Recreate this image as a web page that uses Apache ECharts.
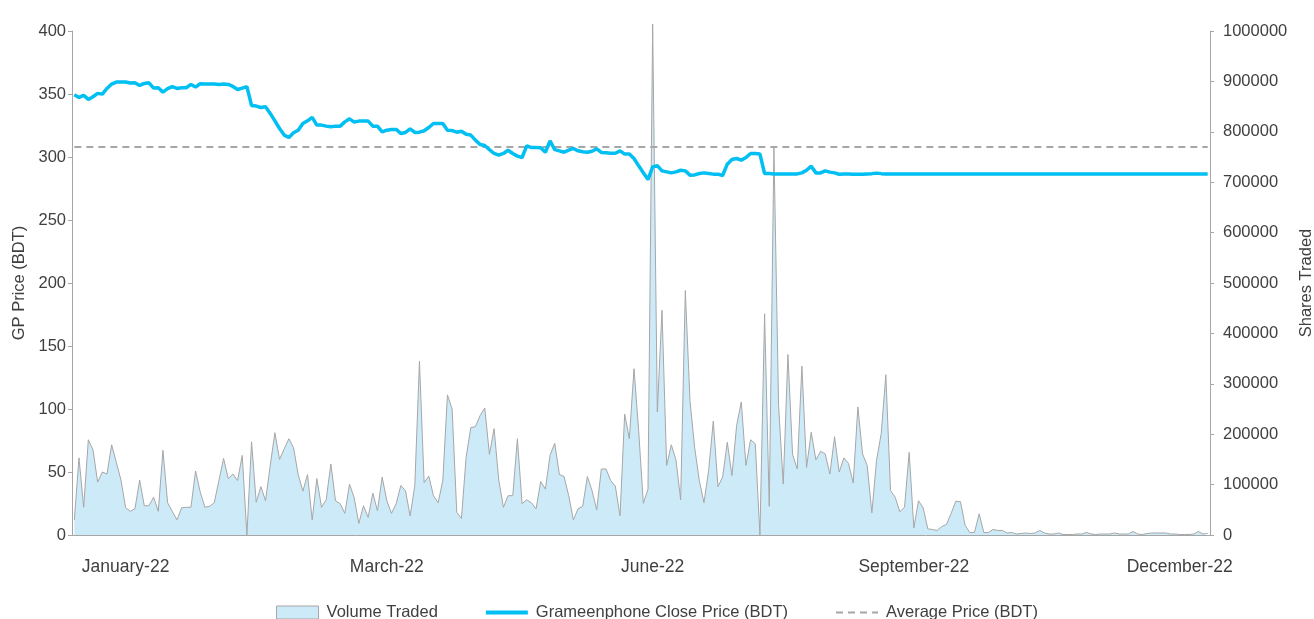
<!DOCTYPE html>
<html>
<head>
<meta charset="utf-8">
<script src="https://cdn.jsdelivr.net/npm/echarts@6/dist/echarts.min.js"></script>
<style>
  html, body { margin: 0; padding: 0; background: #fff; }
  #chart { width: 1314px; height: 619px; }
</style>
</head>
<body>
<div id="chart"></div>
<script>
// 交易日收盘价 (BDT)
const closePrice = [
  349.4, 347.3, 348.9, 345.7, 347.8, 350.5, 349.9, 354.4, 357.9, 359.5,
  359.5, 359.5, 358.7, 358.9, 356.8, 358.4, 358.9, 354.7, 355.0, 351.5,
  354.2, 355.8, 354.4, 355.0, 355.0, 357.6, 355.5, 358.2, 357.9, 357.9,
  357.9, 357.6, 357.9, 357.6, 356.0, 353.6, 354.7, 355.8, 340.9, 340.4,
  339.3, 339.9, 334.6, 328.7, 322.6, 317.4, 315.5, 319.2, 321.3, 326.6,
  328.7, 331.4, 325.3, 325.3, 324.5, 324.0, 324.5, 324.5, 327.9, 330.3,
  327.7, 328.5, 328.5, 328.5, 324.5, 324.5, 320.0, 321.3, 321.9, 321.9,
  318.7, 319.5, 322.4, 319.5, 319.7, 320.8, 323.4, 326.6, 326.6, 326.6,
  321.3, 321.0, 319.7, 320.5, 318.1, 317.4, 313.4, 309.9, 309.1, 305.9,
  302.8, 301.5, 302.8, 305.4, 302.8, 300.7, 299.6, 308.9, 307.5, 307.5,
  307.3, 303.8, 312.8, 305.9, 304.9, 303.8, 305.4, 306.8, 304.9, 304.1,
  303.8, 304.6, 306.5, 303.6, 303.3, 303.0, 303.0, 304.9, 302.3, 302.3,
  298.8, 293.0, 287.5, 282.1, 292.2, 293.2, 289.0, 288.2, 287.4, 288.2,
  289.5, 289.0, 285.6, 285.8, 286.9, 287.4, 286.9, 286.4, 286.4, 285.3,
  294.3, 298.0, 298.8, 297.5, 299.6, 302.8, 302.8, 302.3, 286.9, 286.9,
  286.6, 286.6, 286.6, 286.6, 286.6, 286.6, 287.4, 289.5, 292.7, 287.4,
  287.4, 289.0, 288.0, 287.4, 286.3, 286.6, 286.6, 286.4, 286.4, 286.4,
  286.6, 286.8, 287.2, 286.8, 286.6, 286.6, 286.6, 286.6, 286.6, 286.6,
  286.6, 286.6, 286.6, 286.6, 286.6, 286.6, 286.6, 286.6, 286.6, 286.6,
  286.6, 286.6, 286.6, 286.6, 286.6, 286.6, 286.6, 286.6, 286.6, 286.6,
  286.6, 286.6, 286.6, 286.6, 286.6, 286.6, 286.6, 286.6, 286.6, 286.6,
  286.6, 286.6, 286.6, 286.6, 286.6, 286.6, 286.6, 286.6, 286.6, 286.6,
  286.6, 286.6, 286.6, 286.6, 286.6, 286.6, 286.6, 286.6, 286.6, 286.6,
  286.6, 286.6, 286.6, 286.6, 286.6, 286.6, 286.6, 286.6, 286.6, 286.6,
  286.6, 286.6, 286.6, 286.6
];

// 成交量 (千股)
const volumeK = [
  30, 153, 55, 189, 169, 105, 125, 121, 179, 144,
  109, 54, 47, 52, 109, 58, 58, 75, 47, 168,
  64, 47, 30, 54, 55, 55, 127, 85, 55, 57,
  64, 108, 152, 112, 121, 108, 158, 0, 185, 65,
  96, 68, 138, 203, 150, 171, 191, 173, 120, 87,
  120, 30, 112, 55, 70, 141, 68, 62, 43, 101,
  74, 23, 58, 35, 83, 48, 115, 68, 43, 62,
  98, 88, 38, 98, 345, 104, 117, 78, 64, 108,
  278, 250, 45, 33, 154, 213, 215, 237, 252, 160,
  211, 109, 55, 78, 78, 191, 62, 70, 64, 52,
  106, 91, 158, 182, 120, 116, 78, 30, 52, 57,
  116, 88, 50, 131, 131, 108, 97, 38, 240, 191,
  330, 207, 63, 91, 1014, 244, 446, 138, 179, 149,
  70, 485, 267, 174, 108, 64, 128, 226, 96, 115,
  184, 118, 217, 264, 138, 189, 181, 0, 439, 57,
  768, 257, 101, 358, 160, 131, 335, 134, 204, 149,
  166, 161, 121, 195, 125, 153, 142, 103, 254, 161,
  138, 44, 148, 201, 318, 88, 75, 46, 55, 164,
  14, 68, 54, 12, 11, 9, 17, 21, 43, 67,
  66, 19, 5, 5, 42, 5, 5, 11, 9, 9,
  4, 5, 2, 3, 4, 3, 4, 9, 4, 2,
  2, 4, 1, 1, 1, 2, 2, 5, 2, 1,
  2, 2, 2, 4, 2, 2, 2, 7, 2, 1,
  3, 4, 4, 4, 4, 2, 2, 1, 1, 1,
  2, 7, 2, 3
];

// 平均价
const avgPrice = 308;

// 横轴标签位置
const tickIndex = [11, 67, 124, 180, 237];
const tickLabels = ["January-22", "March-22", "June-22", "September-22", "December-22"];

const categories = closePrice.map((v, i) => String(i));
const volume = volumeK.map((v) => v * 1000);
const avgLine = closePrice.map(() => avgPrice);

const FONT = "'Liberation Sans', Arial, sans-serif";
const AXIS_GREY = "#a6a6a6";
const TEXT = "#404040";
const CYAN = "#00bff2";
const FILL = "#cdeaf9";

let chart = echarts.init(document.getElementById("chart"));

let option = {
  animation: false,
  textStyle: { fontFamily: FONT },
  grid: { left: 72, right: 104, top: 31, bottom: 84, outerBoundsMode: "none", containLabel: false },
  legend: {
    top: 599,
    left: "center",
    itemGap: 48,
    itemWidth: 42,
    itemHeight: 13,
    textStyle: { fontFamily: FONT, fontSize: 16.5, color: TEXT, padding: [0, 0, 0, 3] },
    data: [
      {
        name: "Volume Traded",
        icon: "rect",
        itemStyle: { color: FILL, borderColor: AXIS_GREY, borderWidth: 1 },
      },
      {
        name: "Grameenphone Close Price (BDT)",
        icon: "path://M0 0h42v4H0z",
        itemStyle: { color: CYAN, borderWidth: 0 },
      },
      {
        name: "Average Price (BDT)",
        icon: "path://M0 0h7v2H0z M12 0h7v2h-7z M24 0h7v2h-7z M36 0h6v2h-6z",
        itemStyle: { color: AXIS_GREY, borderWidth: 0 },
      },
    ],
  },
  xAxis: {
    type: "category",
    data: categories,
    boundaryGap: true,
    axisLine: { show: true, lineStyle: { color: AXIS_GREY, width: 1 } },
    axisTick: { show: false },
    splitLine: { show: false },
    axisLabel: {
      interval: (idx) => tickIndex.includes(idx),
      formatter: (val, idx) => tickLabels[tickIndex.indexOf(idx)] || "",
      fontFamily: FONT,
      fontSize: 17.5,
      color: TEXT,
      margin: 23,
    },
  },
  yAxis: [
    {
      type: "value",
      position: "left",
      min: 0,
      max: 400,
      interval: 50,
      name: "GP Price (BDT)",
      nameLocation: "middle",
      nameRotate: 90,
      nameGap: 42,
      nameTextStyle: { fontFamily: FONT, fontSize: 16.5, color: TEXT },
      axisLine: { show: true, lineStyle: { color: AXIS_GREY, width: 1 } },
      axisTick: { show: true, length: 4, lineStyle: { color: AXIS_GREY } },
      splitLine: { show: false },
      axisLabel: {
        fontFamily: FONT,
        fontSize: 16.5,
        color: TEXT,
        margin: 6,
        padding: [0, 0, 9, 0],
      },
    },
    {
      type: "value",
      position: "right",
      min: 0,
      max: 1000000,
      interval: 100000,
      name: "Shares Traded",
      nameLocation: "middle",
      nameRotate: 90,
      nameGap: 87,
      nameTextStyle: { fontFamily: FONT, fontSize: 16.5, color: TEXT },
      axisLine: { show: true, lineStyle: { color: AXIS_GREY, width: 1 } },
      axisTick: { show: true, length: 4, lineStyle: { color: AXIS_GREY } },
      splitLine: { show: false },
      axisLabel: {
        formatter: (v) => String(v),
        fontFamily: FONT,
        fontSize: 16.5,
        color: TEXT,
        margin: 13,
        padding: [0, 0, 9, 0],
      },
    },
  ],
  series: [
    {
      name: "Volume Traded",
      type: "line",
      yAxisIndex: 1,
      data: volume,
      symbol: "none",
      clip: false,
      z: 1,
      lineStyle: { color: AXIS_GREY, width: 1 },
      itemStyle: { color: FILL },
      areaStyle: { color: FILL, opacity: 1 },
    },
    {
      name: "Grameenphone Close Price (BDT)",
      type: "line",
      yAxisIndex: 0,
      data: closePrice,
      symbol: "none",
      z: 3,
      lineStyle: { color: CYAN, width: 3.5 },
      itemStyle: { color: CYAN },
    },
    {
      name: "Average Price (BDT)",
      type: "line",
      yAxisIndex: 0,
      data: avgLine,
      symbol: "none",
      z: 2,
      lineStyle: { color: AXIS_GREY, width: 2, type: [7, 5] },
      itemStyle: { color: AXIS_GREY },
    },
  ],
};

chart.setOption(option);
</script>
</body>
</html>
